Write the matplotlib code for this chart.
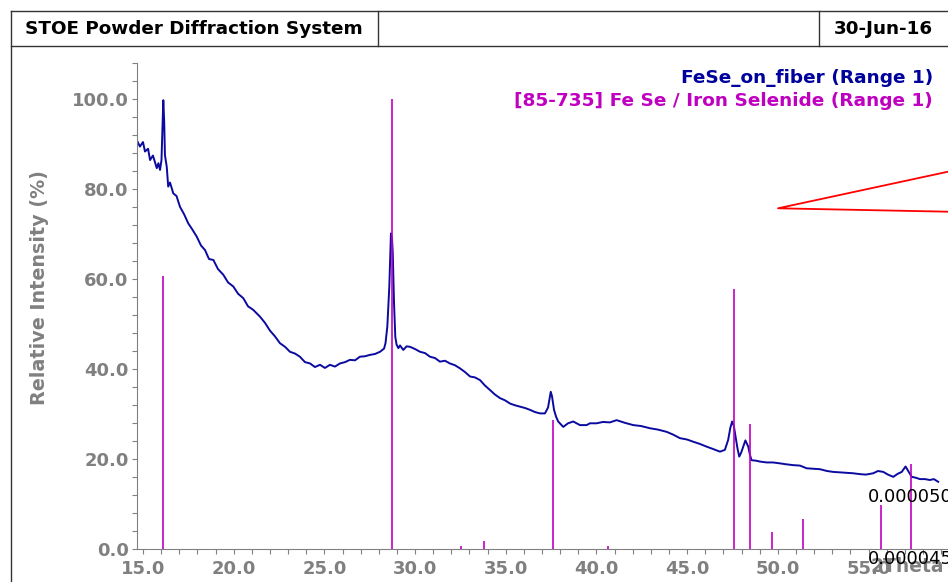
import numpy as np
import matplotlib
matplotlib.use("Agg")
import matplotlib.pyplot as plt
from matplotlib.lines import Line2D
from matplotlib.ticker import MultipleLocator, FormatStrFormatter

# measured pattern (2Theta, relative intensity %)
two_theta = [14.65, 14.83, 15.00, 15.11, 15.28, 15.39, 15.55, 15.76, 15.85, 15.94,
             16.02, 16.08, 16.12, 16.17, 16.21, 16.31, 16.39, 16.49, 16.67, 16.85,
             17.04, 17.26, 17.50, 17.70, 17.96, 18.20, 18.42, 18.64, 18.88, 19.13,
             19.43, 19.69, 19.98, 20.24, 20.53, 20.79, 21.08, 21.45, 21.73, 22.00,
             22.28, 22.55, 22.83, 23.10, 23.38, 23.65, 23.93, 24.21, 24.48, 24.76,
             25.03, 25.31, 25.58, 25.86, 26.14, 26.41, 26.69, 26.96, 27.24, 27.51,
             27.79, 28.07, 28.29, 28.37, 28.47, 28.58, 28.64, 28.67, 28.73, 28.77,
             28.84, 28.91, 28.98, 29.08, 29.17, 29.35, 29.53, 29.72, 30.00, 30.27,
             30.55, 30.82, 31.10, 31.37, 31.65, 31.92, 32.20, 32.48, 32.75, 33.03,
             33.30, 33.58, 33.85, 34.13, 34.40, 34.68, 34.96, 35.23, 35.51, 35.78,
             36.06, 36.33, 36.61, 36.89, 37.16, 37.33, 37.48, 37.55, 37.66, 37.77,
             37.89, 38.17, 38.43, 38.72, 39.09, 39.46, 39.64, 40.01, 40.36, 40.74,
             41.11, 41.57, 42.03, 42.45, 42.95, 43.39, 43.87, 44.22, 44.60, 44.99,
             45.34, 45.71, 46.08, 46.42, 46.81, 47.08, 47.26, 47.38, 47.48, 47.57,
             47.67, 47.77, 47.87, 47.98, 48.09, 48.21, 48.37, 48.46, 48.55, 48.79,
             49.01, 49.38, 49.73, 50.11, 50.44, 50.85, 51.22, 51.59, 51.93, 52.32,
             52.71, 53.05, 53.42, 53.79, 54.14, 54.53, 54.86, 55.26, 55.52, 55.81,
             56.07, 56.36, 56.62, 56.83, 57.04, 57.20, 57.38, 57.61, 57.83, 58.11,
             58.38, 58.60, 58.84]
intensity = [91.0, 89.5, 90.5, 88.4, 89.0, 86.5, 87.5, 84.7, 85.8, 84.3,
             86.5, 95.0, 99.8, 95.0, 87.6, 85.0, 80.6, 81.5, 79.1, 78.5,
             76.1, 74.5, 72.4, 71.2, 69.5, 67.5, 66.5, 64.5, 64.3, 62.3,
             61.0, 59.3, 58.4, 56.8, 55.8, 54.0, 53.2, 51.7, 50.3, 48.6,
             47.3, 45.8, 45.0, 43.9, 43.5, 42.8, 41.6, 41.3, 40.5, 41.0,
             40.3, 41.0, 40.6, 41.3, 41.6, 42.1, 42.0, 42.8, 42.9, 43.2,
             43.4, 43.9, 44.6, 45.8, 49.5, 58.4, 66.0, 70.2, 69.0, 65.8,
             54.7, 47.2, 45.5, 44.7, 45.3, 44.3, 45.1, 45.0, 44.5, 43.9,
             43.6, 42.8, 42.5, 41.7, 41.9, 41.3, 40.9, 40.2, 39.4, 38.4,
             38.2, 37.6, 36.4, 35.4, 34.4, 33.6, 33.1, 32.4, 32.0, 31.7,
             31.4, 31.0, 30.5, 30.2, 30.2, 31.5, 35.0, 34.0, 31.0, 29.5,
             28.4, 27.2, 28.0, 28.4, 27.6, 27.6, 28.0, 28.0, 28.3, 28.2,
             28.7, 28.1, 27.6, 27.4, 26.9, 26.6, 26.1, 25.5, 24.7, 24.4,
             23.9, 23.4, 22.8, 22.3, 21.7, 22.1, 24.3, 27.0, 28.4, 27.5,
             25.0, 22.5, 20.6, 21.5, 22.8, 24.2, 22.8, 21.0, 19.8, 19.7,
             19.5, 19.3, 19.3, 19.1, 18.9, 18.7, 18.6, 18.0, 17.9, 17.8,
             17.4, 17.2, 17.1, 17.0, 16.9, 16.7, 16.6, 16.9, 17.4, 17.2,
             16.6, 16.1, 16.8, 17.2, 18.4, 17.3, 16.1, 15.9, 15.6, 15.6,
             15.4, 15.6, 15.0]

# reference card [85-735] FeSe stick pattern
ref_pos = [16.10, 28.73, 32.53, 33.80, 37.59, 40.63, 47.60, 48.45, 49.69, 51.37, 55.70, 57.34]
ref_int = [60.7, 100.0, 0.8, 1.8, 28.8, 0.8, 57.9, 27.9, 3.8, 6.7, 9.8, 18.9]

W, H = 948, 582
BLUE = "#0A0AA0"
MAGENTA = "#C000C0"
GRAY = "#808080"


def fx(px):
    return px / W


def fy(py):
    return 1 - py / H


fig = plt.figure(figsize=(W / 100, H / 100), dpi=100)
plt.rcParams["font.family"] = "DejaVu Sans"

ax = fig.add_axes([fx(137), fy(549.3), fx(948 - 137), (549.3 - 63.3) / H])
ax.vlines(ref_pos, 0, ref_int, color=MAGENTA, lw=1.2, zorder=3)
ax.plot(two_theta, intensity, color=BLUE, lw=1.4, zorder=2)

ax.set_xlim(14.67, 59.38)
ax.set_ylim(0, 108)
ax.xaxis.set_major_locator(MultipleLocator(5))
ax.xaxis.set_minor_locator(MultipleLocator(1))
ax.yaxis.set_major_locator(MultipleLocator(20))
ax.yaxis.set_minor_locator(MultipleLocator(4))
ax.xaxis.set_major_formatter(FormatStrFormatter("%.1f"))
ax.yaxis.set_major_formatter(FormatStrFormatter("%.1f"))
for s in ["top", "right"]:
    ax.spines[s].set_visible(False)
for s in ["left", "bottom"]:
    ax.spines[s].set_color(GRAY)
ax.tick_params(which="both", direction="out", length=3.5, color=GRAY, width=0.8)
ax.tick_params(axis="x", pad=4, labelsize=13, labelcolor=GRAY)
ax.tick_params(axis="y", pad=2.5, labelsize=13, labelcolor=GRAY)
for lab in ax.get_xticklabels() + ax.get_yticklabels():
    lab.set_fontweight("bold")

fig.text(fx(40), fy(288), "Relative Intensity (%)", rotation=90, ha="center", va="center",
         fontsize=13.8, fontweight="bold", color=GRAY)
fig.text(fx(870), fy(566), "2Theta", ha="left", va="center", fontsize=13.5,
         fontweight="bold", color=GRAY)

# legend lines
fig.text(fx(933), fy(78), "FeSe_on_fiber (Range 1)", ha="right", va="center",
         fontsize=13.3, fontweight="bold", color="#00009C")
fig.text(fx(933), fy(101), "[85-735] Fe Se / Iron Selenide (Range 1)", ha="right",
         va="center", fontsize=13.3, fontweight="bold", color=MAGENTA)

# value annotations
fig.text(fx(868), fy(497), "0.000050", ha="left", va="center", fontsize=13, color="black")
fig.text(fx(868), fy(559), "0.000045", ha="left", va="center", fontsize=13, color="black")

# red marker lines
fig.add_artist(Line2D([fx(948), fx(778), fx(948)], [fy(171.7), fy(208.3), fy(211.7)],
                      transform=fig.transFigure, color="red", lw=1.3))

# header frame
frame = dict(transform=fig.transFigure, color="#333333", lw=1.0)
fig.add_artist(Line2D([fx(10.5), fx(948)], [fy(11), fy(11)], **frame))
fig.add_artist(Line2D([fx(10.5), fx(948)], [fy(46), fy(46)], **frame))
fig.add_artist(Line2D([fx(10.5), fx(10.5)], [fy(11), fy(582)], **frame))
fig.add_artist(Line2D([fx(378), fx(378)], [fy(11), fy(46)], **frame))
fig.add_artist(Line2D([fx(819), fx(819)], [fy(11), fy(46)], **frame))
fig.text(fx(25), fy(28.5), "STOE Powder Diffraction System", ha="left", va="center",
         fontsize=13.2, fontweight="bold", color="black")
fig.text(fx(834), fy(28.5), "30-Jun-16", ha="left", va="center",
         fontsize=13.2, fontweight="bold", color="black")

fig.savefig("out.png", dpi=100)
